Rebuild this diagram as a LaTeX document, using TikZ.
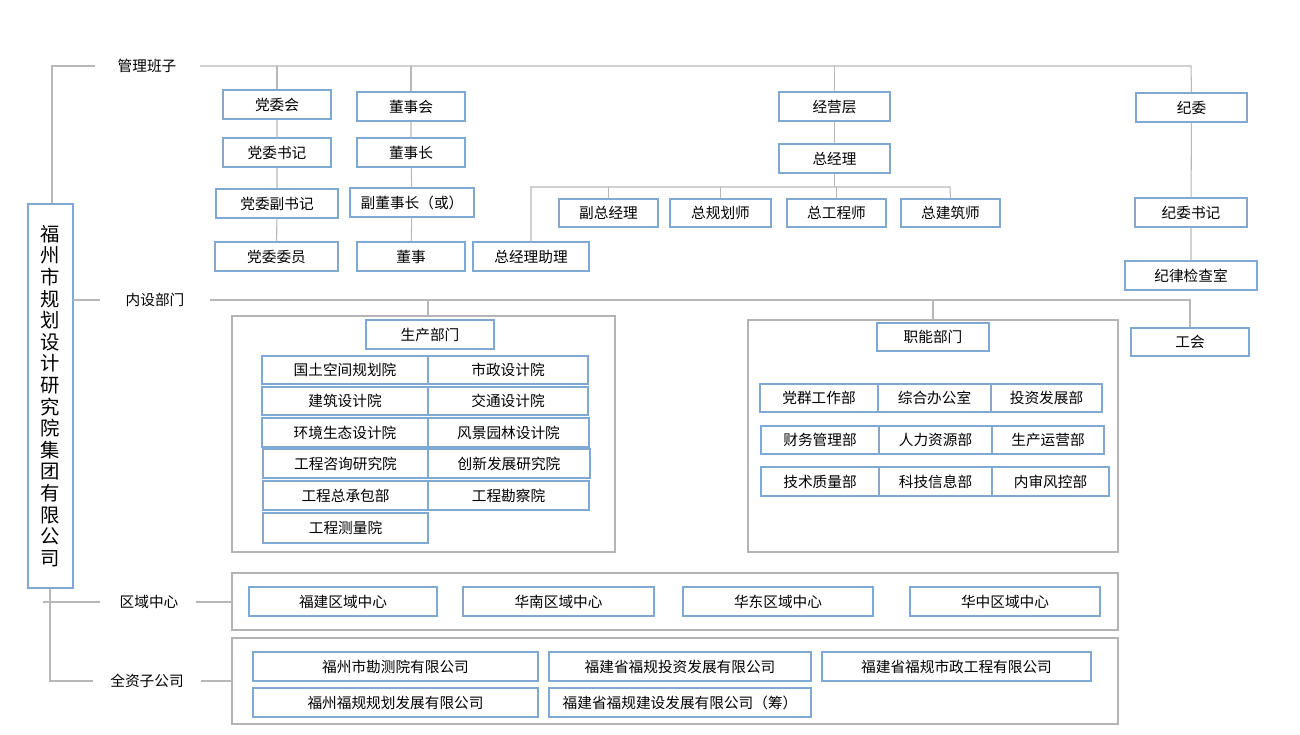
\documentclass[tikz,border=0pt]{standalone}
\usepackage{fontspec}
\setmainfont{Noto Sans CJK SC}
\begin{document}
\begin{tikzpicture}[x=0.75pt,y=-0.75pt,
  bx/.style={draw=boxc,line width=0.9pt,fill=white,inner sep=0pt,font=\fontsize{11}{13}\selectfont},
  ct/.style={draw=ctc,line width=1.1pt},
  ln/.style={draw=lnc,line width=0.8pt},
  lb/.style={inner sep=0pt,font=\fontsize{11}{13}\selectfont}]
\definecolor{boxc}{HTML}{7FA9D2}
\definecolor{ctc}{HTML}{B4B4B4}
\definecolor{lnc}{HTML}{B8B8B8}
\useasboundingbox[fill=white] (0,0) rectangle (1300,735);
\newcommand\bx[6]{\node[bx,minimum width={(#4-#2)*0.75pt},minimum height={(#5-#3)*0.75pt}] (#1) at ({(#2+#4)/2},{(#3+#5)/2}) {#6};}
% containers
\draw[ct] (232,316) rectangle (615,552);
\draw[ct] (748,320) rectangle (1118,552);
\draw[ct] (232,573) rectangle (1118,630);
\draw[ct] (232,638) rectangle (1118,724);
% labels
\node[lb] (l1) at (147,66) {管理班子};
\node[lb] (l2) at (155,300) {内设部门};
\node[lb] (l3) at (149,602) {区域中心};
\node[lb] (l4) at (147,681) {全资子公司};
% coordinates
\coordinate (a0) at (52,66); \coordinate (a1) at (95,66);
\coordinate (a2) at (200,66); \coordinate (a3) at (1191,66);
\coordinate (b0) at (73,300); \coordinate (b1) at (100,300);
\coordinate (b2) at (210,300); \coordinate (b3) at (1190,300);
\coordinate (c0) at (43,602); \coordinate (c1) at (100,602);
\coordinate (c2) at (196,602); \coordinate (c3) at (232,602);
\coordinate (d0) at (50,681); \coordinate (d1) at (93,681);
\coordinate (d2) at (201,681); \coordinate (d3) at (232,681);
\coordinate (g0) at (531,187); \coordinate (g1) at (950,187);
% title box
\node[bx,minimum width=45*0.75pt,minimum height=384*0.75pt,font=\fontsize{14.5}{16.2}\selectfont,align=center] (T) at (50.5,396) {福\\州\\市\\规\\划\\设\\计\\研\\究\\院\\集\\团\\有\\限\\公\\司};
% boxes
\bx{dwh}{223}{90}{331}{119}{党委会}
\bx{dsh}{357}{92}{465}{121}{董事会}
\bx{dwsj}{223}{138}{331}{167}{党委书记}
\bx{dsz}{357}{138}{465}{167}{董事长}
\bx{dwf}{216}{189}{338}{218}{党委副书记}
\bx{dsf}{350}{188}{474}{217}{副董事长（或）}
\bx{dwwy}{215}{242}{338}{271}{党委委员}
\bx{ds}{357}{242}{465}{271}{董事}
\bx{zjlzl}{473}{242}{589}{271}{总经理助理}
\bx{jyc}{779}{92}{890}{121}{经营层}
\bx{zjl}{779}{144}{890}{173}{总经理}
\bx{fzjl}{559}{199}{658}{227}{副总经理}
\bx{zghs}{670}{199}{771}{227}{总规划师}
\bx{zgcs}{787}{199}{886}{227}{总工程师}
\bx{zjzs}{901}{199}{1000}{227}{总建筑师}
\bx{jw}{1136}{93}{1247}{122}{纪委}
\bx{jwsj}{1135}{198}{1247}{227}{纪委书记}
\bx{jljcs}{1125}{261}{1257}{290}{纪律检查室}
\bx{gh}{1131}{328}{1249}{356}{工会}
\bx{scbm}{366}{320}{494}{349}{生产部门}
\bx{p1}{262}{356}{428}{384}{国土空间规划院}
\bx{p2}{428}{356}{588}{384}{市政设计院}
\bx{p3}{262}{387}{428}{415}{建筑设计院}
\bx{p4}{428}{387}{588}{415}{交通设计院}
\bx{p5}{262}{418}{428}{447}{环境生态设计院}
\bx{p6}{428}{418}{589}{447}{风景园林设计院}
\bx{p7}{263}{449}{428}{478}{工程咨询研究院}
\bx{p8}{428}{449}{590}{478}{创新发展研究院}
\bx{p9}{263}{481}{428}{510}{工程总承包部}
\bx{p10}{428}{481}{589}{510}{工程勘察院}
\bx{p11}{263}{513}{428}{543}{工程测量院}
\bx{znbm}{877}{323}{989}{351}{职能部门}
\bx{f1}{760}{384}{878}{412}{党群工作部}
\bx{f2}{878}{384}{991}{412}{综合办公室}
\bx{f3}{991}{384}{1102}{412}{投资发展部}
\bx{f4}{761}{426}{879}{454}{财务管理部}
\bx{f5}{879}{426}{992}{454}{人力资源部}
\bx{f6}{992}{426}{1104}{454}{生产运营部}
\bx{f7}{761}{467}{879}{496}{技术质量部}
\bx{f8}{879}{467}{992}{496}{科技信息部}
\bx{f9}{992}{467}{1109}{496}{内审风控部}
\bx{r1}{249}{587}{437}{616}{福建区域中心}
\bx{r2}{463}{587}{654}{616}{华南区域中心}
\bx{r3}{683}{587}{873}{616}{华东区域中心}
\bx{r4}{910}{587}{1100}{616}{华中区域中心}
\bx{s1}{253}{652}{538}{681}{福州市勘测院有限公司}
\bx{s2}{549}{652}{811}{681}{福建省福规投资发展有限公司}
\bx{s3}{822}{652}{1091}{681}{福建省福规市政工程有限公司}
\bx{s4}{253}{688}{538}{717}{福州福规规划发展有限公司}
\bx{s5}{549}{688}{811}{717}{福建省福规建设发展有限公司（筹）}
% connectors
\draw[ln] (T.north -| a0) -- (a0) -- (a1);
\draw[ln] (a2) -- (a3) -- (jw.north);
\draw[ln] (a0 -| dwh) -- (dwh.north);
\draw[ln] (a0 -| dsh) -- (dsh.north);
\draw[ln] (a0 -| jyc) -- (jyc.north);
\draw[ln] (dwh) -- (dwsj) -- (dwf) -- (dwwy);
\draw[ln] (dsh) -- (dsz) -- (dsf) -- (ds);
\draw[ln] (jyc) -- (zjl);
\draw[ln] (zjl.south) -- (zjl.south |- g0);
\draw[ln] (zjlzl.north -| g0) -- (g0) -- (g1) -- (zjzs.north);
\draw[ln] (g0 -| fzjl) -- (fzjl.north);
\draw[ln] (g0 -| zghs) -- (zghs.north);
\draw[ln] (g0 -| zgcs) -- (zgcs.north);
\draw[ln] (jw) -- (jwsj) -- (jljcs);
\draw[ln] (b0) -- (b1);
\draw[ln] (b2) -- (b3) -- (gh.north);
\draw[ln] (428,300) -- (428,316);
\draw[ln] (933,300) -- (933,320);
\draw[ln] (c0) -- (c1);
\draw[ln] (c2) -- (c3);
\draw[ln] (T.south -| d0) -- (d0) -- (d1);
\draw[ln] (d2) -- (d3);
\end{tikzpicture}
\end{document}
